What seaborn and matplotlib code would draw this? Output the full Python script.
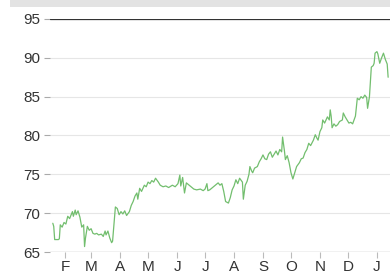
import numpy as np
import pandas as pd
import matplotlib
matplotlib.use("Agg")
import matplotlib.pyplot as plt
import matplotlib.dates as mdates
from matplotlib.patches import Rectangle
import seaborn as sns

sns.set_style("white")
plt.rcParams["font.family"] = ["Liberation Sans", "DejaVu Sans"]

# day of year (0 = Jan 1) and price
day = [18, 19, 20, 24, 25, 26, 28, 30, 32, 34, 36, 39, 40, 42, 43, 45, 47, 49, 51, 52,
       53, 55, 57, 59, 61, 63, 65, 67, 70, 72, 74, 75, 77, 79, 81, 82, 85, 87, 89, 91,
       93, 95, 97, 100, 102, 104, 106, 108, 109, 111, 113, 116, 118, 120, 122, 124, 126, 128, 131, 133,
       136, 139, 142, 146, 149, 152, 154, 155, 157, 159, 161, 163, 166, 169, 172, 176, 179, 181, 183, 184,
       186, 188, 191, 193, 195, 197, 199, 201, 203, 206, 208, 210, 212, 214, 216, 218, 221, 222, 224, 226,
       228, 229, 231, 232, 234, 237, 239, 241, 243, 245, 247, 249, 251, 253, 255, 257, 259, 261, 263, 264,
       266, 267, 269, 271, 273, 275, 277, 279, 282, 284, 286, 288, 290, 292, 294, 297, 299, 301, 302, 304,
       306, 307, 309, 312, 314, 315, 316, 317, 319, 321, 323, 325, 328, 329, 331, 333, 335, 337, 339, 342,
       344, 346, 348, 350, 352, 354, 355, 357, 359, 361, 362, 363, 365, 366, 367, 368, 370, 372, 374, 376,
       377]
price = [68.7, 68.3, 66.6, 66.6, 66.7, 68.5, 68.2, 68.8, 68.6, 69.6, 69.3, 70.2, 69.6, 70.4, 69.8, 70.3, 69.5, 68.2, 68.5, 65.7,
         66.8, 68.3, 67.8, 68.0, 67.4, 67.3, 67.4, 67.2, 67.3, 67.0, 67.7, 67.2, 67.7, 66.8, 66.2, 66.4, 70.8, 70.6, 69.8, 70.2,
         69.9, 70.3, 69.7, 70.2, 71.0, 71.5, 72.2, 72.6, 71.8, 73.2, 72.8, 73.6, 73.4, 74.0, 73.8, 74.2, 74.0, 74.5, 74.0, 73.6,
         73.4, 73.5, 73.3, 73.6, 73.4, 73.8, 74.9, 73.5, 74.6, 72.6, 73.9, 73.7, 73.4, 73.1, 73.0, 73.1, 72.9, 73.1, 73.8, 72.9,
         73.0, 73.2, 73.5, 73.7, 73.9, 73.6, 73.8, 72.8, 71.5, 71.3, 72.0, 73.0, 73.5, 74.3, 73.8, 74.5, 74.0, 71.8, 73.6, 74.1,
         75.0, 76.0, 75.4, 75.2, 75.8, 76.0, 76.6, 77.0, 77.5, 77.0, 76.9, 77.6, 77.9, 77.2, 77.6, 78.0, 77.5, 78.2, 77.9, 79.8,
         78.0, 76.9, 77.4, 76.5, 75.2, 74.4, 75.2, 76.0, 76.5, 77.0, 77.1, 77.8, 78.2, 79.0, 78.7, 79.4, 80.1, 79.6, 79.4, 80.5,
         81.0, 82.0, 81.6, 82.4, 82.0, 83.3, 82.5, 81.0, 81.5, 81.2, 81.4, 81.8, 82.0, 82.9, 82.4, 82.0, 81.6, 81.7, 81.5, 82.5,
         84.8, 84.6, 85.0, 84.8, 85.2, 84.9, 83.5, 85.0, 88.8, 89.0, 89.3, 90.6, 90.8, 90.5, 89.9, 89.3, 90.0, 90.6, 89.8, 89.2,
         87.5]
month_labels = ["F", "M", "A", "M", "J", "J", "A", "S", "O", "N", "D", "J"]
y_ticks = [65, 70, 75, 80, 85, 90, 95]

start = pd.Timestamp("2015-01-01")
df = pd.DataFrame({"date": start + pd.to_timedelta(day, unit="D"), "price": price})

fig = plt.figure(figsize=(3.9, 2.73), dpi=100)
fig.patches.append(Rectangle((10 / 390, 1 - 7 / 273), 1, 7 / 273, transform=fig.transFigure,
                             facecolor="#e3e3e3", edgecolor="none", zorder=0))
ax = fig.add_axes([50 / 390, 1 - 252 / 273, 340 / 390, 233 / 273])

sns.lineplot(data=df, x="date", y="price", ax=ax, color="#72be6e", linewidth=0.9)

ax.set_ylim(65, 95)
ax.set_xlim(start + pd.Timedelta(days=15), start + pd.Timedelta(days=379))
ax.set_yticks(y_ticks)
ax.grid(axis="y", color="#e6e6e6", linewidth=0.8)
ax.axhline(95, color="#333333", linewidth=0.9, zorder=3)
ax.axhline(65, color="#c4c4c4", linewidth=1.0, zorder=3)

ticks = pd.date_range("2015-02-01", periods=12, freq="MS")
ax.set_xticks(ticks)
ax.set_xticklabels(month_labels)

for s in ["top", "right", "left", "bottom"]:
    ax.spines[s].set_visible(False)
ax.tick_params(axis="y", length=4, width=0.8, color="#aaaaaa", labelsize=11, labelcolor="#333333", pad=3, left=True)
ax.tick_params(axis="x", length=4, width=0.8, color="#bbbbbb", labelsize=11, labelcolor="#333333", pad=2, bottom=True)
ax.set_xlabel("")
ax.set_ylabel("")

fig.savefig("out.png", dpi=100)
